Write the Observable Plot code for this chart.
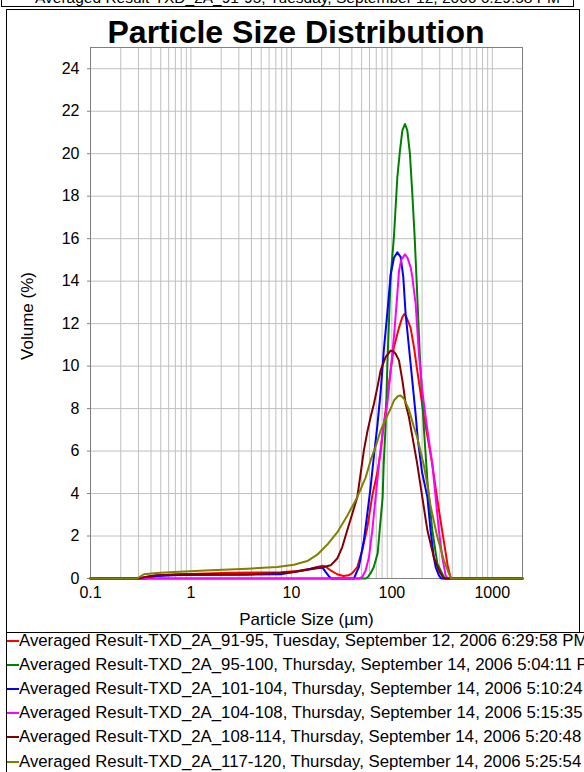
<!DOCTYPE html>
<html><head><meta charset="utf-8">
<script src="https://cdn.jsdelivr.net/npm/d3@7"></script>
<script src="https://cdn.jsdelivr.net/npm/@observablehq/plot@0.6"></script>
<style>
body{margin:0;background:#fff;font-family:"Liberation Sans",Arial,sans-serif;}
#page{position:relative;width:584px;height:772px;overflow:hidden;background:#fff}
#page svg{position:absolute;left:0;top:0}
.abs{position:absolute}
#header{left:1px;top:0;width:571px;height:6px;border:1px solid #000;border-top:none;overflow:hidden}
#header span{position:absolute;left:33px;top:-10px;font-size:15.5px;line-height:16px;white-space:nowrap}
#frame{left:6px;top:9px;width:572px;height:622px;border:1px solid #000;pointer-events:none}
#legendbox{left:6px;top:632px;width:600px;height:200px;border-left:1px solid #000;border-top:1px solid #000}
#title{left:296px;top:16px;transform:translateX(-50%);font-size:32px;line-height:32px;font-weight:bold;white-space:nowrap}
.row{position:absolute;left:19px;height:24px;line-height:24px;font-size:16.8px;white-space:nowrap}
.stub{position:absolute;left:7px;width:12px;height:1.5px}
</style></head><body><div id="page"></div>
<script>
// ---- data ----
const seriesNames = [
  "Averaged Result-TXD_2A_91-95, Tuesday, September 12, 2006 6:29:58 PM",
  "Averaged Result-TXD_2A_95-100, Thursday, September 14, 2006 5:04:11 PM",
  "Averaged Result-TXD_2A_101-104, Thursday, September 14, 2006 5:10:24 PM",
  "Averaged Result-TXD_2A_104-108, Thursday, September 14, 2006 5:15:35 PM",
  "Averaged Result-TXD_2A_108-114, Thursday, September 14, 2006 5:20:48 PM",
  "Averaged Result-TXD_2A_117-120, Thursday, September 14, 2006 5:25:54 PM"
];
const seriesColors = ["#ff0000", "#008000", "#0000ff", "#ff00ff", "#800000", "#808000"];

// [particle size (µm), volume (%)]
const red = [[0.1,0],[0.3,0],[0.4,0.12],[0.8,0.2],[2.5,0.27],[7.8,0.3],[11.5,0.35],[15.5,0.46],[18.5,0.55],[20.5,0.6],[22,0.55],[24.6,0.38],[28.6,0.2],[33,0.12],[37,0.15],[40.4,0.25],[45.3,0.54],[50.8,1.33],[57,2.4],[63.9,3.9],[71.8,5.0],[77.4,6.0],[83.4,7.3],[90.2,8.5],[97.3,9.8],[105,10.9],[117.8,11.8],[127,12.3],[133,12.45],[140,12.3],[153.8,11.8],[166,10.9],[179,9.8],[193.6,8.7],[209,7.6],[230,6.5],[254,5.3],[278,4.0],[306,2.7],[336,1.5],[360,0.6],[385,0.05],[395,0],[2000,0]];
const green = [[0.1,0],[55,0],[57.4,0.06],[61.5,0.25],[66,0.53],[72.3,1.19],[75.7,2.27],[81,3.82],[83,5.4],[86.8,7.2],[90.2,10.0],[97.3,14.2],[105,16.1],[113.5,18.9],[120.5,20.15],[127.4,21.1],[135.3,21.4],[142.6,21.1],[151.4,20.0],[160,18.1],[168.7,16.1],[176.6,14.0],[190,10.5],[209,7.0],[226,4.6],[253,2.27],[284,0.7],[330,0.07],[345,0],[2000,0]];
const blue = [[0.1,0],[0.35,0],[0.45,0.12],[0.8,0.17],[3.6,0.18],[7.8,0.2],[10.6,0.3],[14.4,0.42],[18,0.52],[20.5,0.5],[22,0.3],[23.7,0.1],[25,0],[42,0],[44,0.23],[47,0.54],[49,1.0],[52.7,1.8],[57,3.05],[61.5,4.3],[66.4,5.8],[71.8,7.2],[77.4,8.8],[83.4,10.8],[90.2,12.5],[97.3,14.3],[105,15.1],[113.5,15.36],[122.5,15.13],[130,14.2],[137,12.5],[148,10.9],[160,9.3],[172,7.8],[182,6.5],[200,5.0],[226,3.83],[243,2.27],[262,1.0],[273,0.54],[294,0.15],[310,0],[2000,0]];
const magenta = [[0.1,0],[47,0],[50.8,0.07],[54.8,0.38],[59.2,1.0],[63.9,2.27],[69,3.83],[74.5,5.4],[81,6.9],[90.2,8.23],[97.3,9.8],[105,11.36],[113.5,13.4],[118,14.5],[124,15.0],[135.3,15.26],[143,15.1],[153.8,14.66],[160,14.2],[166,13.56],[172.6,12.94],[186,10.58],[201,8.86],[217,7.6],[234,6.5],[253,5.4],[273,3.83],[294,2.27],[318,1.0],[343,0.15],[360,0],[2000,0]];
const brown = [[0.1,0],[0.3,0],[0.33,0.05],[0.45,0.15],[0.8,0.2],[3.6,0.2],[7.8,0.26],[10.6,0.31],[16.8,0.46],[21.1,0.54],[24.6,0.62],[28.6,0.94],[32.1,1.48],[36,2.27],[40.4,3.05],[45.3,3.83],[48.9,4.94],[52.7,6.03],[57,6.9],[61.5,7.6],[66.4,8.23],[71.8,9.0],[77.4,9.8],[86.7,10.42],[97.3,10.73],[103,10.7],[109,10.58],[117.8,10.27],[127.4,9.33],[137.2,8.23],[148,7.6],[160,6.7],[179,5.4],[201,3.83],[226,2.27],[262,1.0],[294,0.38],[318,0.1],[330,0],[2000,0]];
const olive = [[0.1,0],[0.29,0],[0.34,0.2],[0.46,0.26],[0.68,0.31],[1.57,0.39],[3.64,0.46],[7.24,0.54],[10.6,0.65],[14.4,0.82],[18.1,1.12],[22.8,1.6],[28.6,2.17],[36,2.95],[45.3,3.83],[54.8,4.75],[61.5,5.56],[70,6.3],[77.4,6.97],[86.7,7.5],[97.3,8.0],[105,8.38],[115,8.58],[122,8.62],[132,8.47],[148,7.95],[166,7.13],[180,6.6],[209,5.3],[226,4.4],[243.5,3.4],[284,1.95],[330,0.86],[370,0.23],[390,0],[2000,0]];

const xTicks = [0.1, 1, 10, 100, 1000];
const yTicks = [0, 2, 4, 6, 8, 10, 12, 14, 16, 18, 20, 22, 24];
const gridSizes = [0.1,0.2,0.3,0.4,0.5,0.6,0.7,0.8,0.9,1,2,3,4,5,6,7,8,9,10,20,30,40,50,60,70,80,90,100,200,300,400,500,600,700,800,900,1000,2000];

const chartTitle = "Particle Size Distribution";
const xLabel = "Particle Size (µm)";
const yLabel = "Volume (%)";

// ---- build ----
const allSeries = [red, green, blue, magenta, brown, olive];
const table = allSeries.flatMap((s, i) => s.map(([size, vol]) => ({series: seriesNames[i], size, vol})));

const font = '"Liberation Sans", Arial, sans-serif';
const chart = Plot.plot({
  width: 584, height: 632,
  marginLeft: 90, marginRight: 62, marginTop: 47, marginBottom: 54,
  x: {type: "log", domain: [0.1, 2000]},
  y: {domain: [0, 25]},
  color: {domain: seriesNames, range: seriesColors},
  style: {fontFamily: font, fontSize: "16px", background: "transparent", color: "#000", overflow: "visible"},
  marks: [
    Plot.gridX(gridSizes, {stroke: "#c0c0c0", strokeOpacity: 1}),
    Plot.gridY(yTicks, {stroke: "#c0c0c0", strokeOpacity: 1}),
    Plot.frame({stroke: "#808080"}),
    Plot.axisY(yTicks, {tickSize: 3, tickPadding: 8, stroke: "#808080", fill: "#000", label: null, fontSize: 16}),
    Plot.axisX(xTicks, {tickSize: 0, tickPadding: 8, tickFormat: d => String(d), label: null, fontSize: 16, fill: "#000"}),
    ...seriesNames.map(name => Plot.line(table.filter(d => d.series === name), {x: "size", y: "vol", stroke: "series", strokeWidth: 2})),
    Plot.text([yLabel], {text: d => d, frameAnchor: "left", dx: -63, dy: 3, rotate: -90, textAnchor: "middle", lineAnchor: "middle", fontSize: 17}),
    Plot.text([xLabel], {text: d => d, frameAnchor: "bottom", dy: 41, textAnchor: "middle", lineAnchor: "middle", fontSize: 17})
  ]
});

const page = document.getElementById("page");
page.appendChild(chart);

const header = document.createElement("div");
header.id = "header"; header.className = "abs";
const hs = document.createElement("span"); hs.textContent = seriesNames[0];
header.appendChild(hs);
page.appendChild(header);

const frame = document.createElement("div");
frame.id = "frame"; frame.className = "abs";
page.appendChild(frame);

const title = document.createElement("div");
title.id = "title"; title.className = "abs"; title.textContent = chartTitle;
page.appendChild(title);

const lb = document.createElement("div");
lb.id = "legendbox"; lb.className = "abs";
page.appendChild(lb);

const rowCenters = [641, 665, 689, 713, 737, 762];
seriesNames.forEach((name, i) => {
  const stub = document.createElement("div");
  stub.className = "stub";
  stub.style.top = (rowCenters[i] - 0.75) + "px";
  stub.style.background = seriesColors[i];
  page.appendChild(stub);
  const row = document.createElement("div");
  row.className = "row";
  row.style.top = (rowCenters[i] - 12) + "px";
  row.textContent = name;
  page.appendChild(row);
});
</script></body></html>
